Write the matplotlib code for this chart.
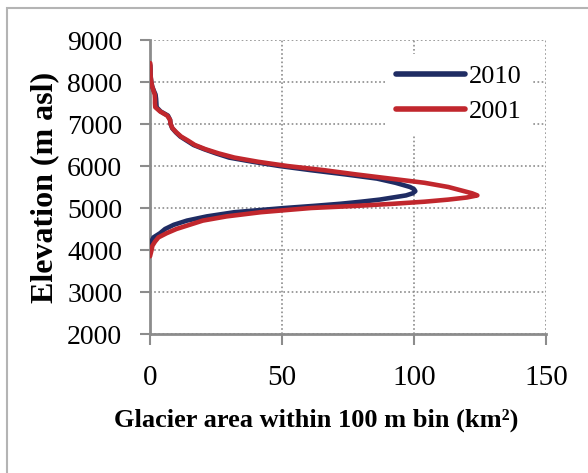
import matplotlib
matplotlib.use('Agg')
import matplotlib.pyplot as plt
from matplotlib.patches import Rectangle

# elevation (m asl) and glacier area within each 100 m bin (km2)
elev_2001 = [3850, 3900, 4000, 4100, 4200, 4300, 4400, 4500, 4600, 4700, 4800, 4900,
             5000, 5050, 5100, 5150, 5200, 5250, 5300, 5350, 5400, 5500, 5600, 5700,
             5800, 5900, 6000, 6100, 6200, 6300, 6400, 6500, 6600, 6700, 6800, 6900,
             7000, 7100, 7200, 7300, 7400, 7500, 7600, 7700, 7800, 7900, 8000, 8100,
             8200, 8300, 8450]
area_2001 = [0.0, 0.2, 0.6, 0.9, 1.9, 3.2, 6.3, 10.0, 15.0, 20.0, 29.0, 42.0,
             61.0, 78.0, 92.0, 104.0, 113.0, 120.0, 124.0, 122.0, 119.0, 113.0, 104.0, 91.0,
             78.0, 66.0, 52.0, 41.0, 32.0, 26.0, 21.0, 17.0, 14.5, 11.8, 10.0, 8.5,
             7.8, 7.6, 6.5, 3.8, 2.0, 1.9, 1.9, 1.8, 1.3, 0.8, 0.5, 0.3,
             0.2, 0.2, 0.1]

elev_2010 = [4000, 4100, 4200, 4300, 4400, 4500, 4600, 4700, 4800, 4900, 5000, 5050,
             5100, 5150, 5200, 5250, 5300, 5350, 5400, 5450, 5500, 5600, 5700, 5800,
             5900, 6000, 6100, 6200, 6300, 6400, 6500, 6600, 6700, 6800, 6900, 7000,
             7100, 7200, 7300, 7400, 7500, 7600, 7700, 7800, 7900, 8000, 8100, 8200,
             8300, 8400]
area_2010 = [0.0, 0.2, 0.5, 1.3, 3.8, 5.7, 9.0, 14.0, 21.5, 32.0, 51.0, 62.0,
             72.0, 80.0, 87.0, 92.0, 97.0, 99.5, 100.5, 100.0, 98.5, 93.0, 86.0, 74.0,
             61.0, 49.0, 39.0, 30.0, 25.0, 20.5, 16.5, 14.0, 11.5, 9.8, 8.4, 7.8,
             7.6, 6.8, 4.0, 2.5, 2.4, 2.3, 2.1, 1.4, 0.8, 0.5, 0.3, 0.2,
             0.2, 0.1]

grey = '#8c8c8c'
plt.rcParams['font.family'] = ['Liberation Serif', 'DejaVu Serif']

fig = plt.figure(figsize=(5.88, 4.73), dpi=100)
fig.patches.append(Rectangle((7 / 588, -0.1), 1.2, 1 - 8 / 473 + 0.1,
                             transform=fig.transFigure, fill=False,
                             edgecolor='#b4b4b4', linewidth=1.5, zorder=0))
ax = fig.add_axes([150 / 588, 1 - 334 / 473, 396 / 588, 294 / 473])

ax.plot(area_2010, elev_2010, color='#1f2c63', linewidth=3.3, label='2010',
        solid_capstyle='round', solid_joinstyle='round', zorder=3)
ax.plot(area_2001, elev_2001, color='#c1272d', linewidth=3.3, label='2001',
        solid_capstyle='round', solid_joinstyle='round', zorder=4)

ax.set_xlim(0, 150)
ax.set_ylim(2000, 9000)
ax.set_xticks([0, 50, 100, 150])
ax.set_yticks(range(2000, 9001, 1000))
ax.grid(True, color=grey, linestyle=(0, (1, 1.5)), linewidth=1.2)
ax.set_axisbelow(True)

for side in ['top', 'right']:
    ax.spines[side].set_visible(False)
for side in ['left', 'bottom']:
    ax.spines[side].set_color(grey)
    ax.spines[side].set_linewidth(2)

ax.tick_params(axis='y', length=7, width=1.5, color=grey, pad=13, labelsize=20)
ax.tick_params(axis='x', length=8, width=1.5, color=grey, pad=14, labelsize=21)

ax.set_ylabel('Elevation (m asl)', fontsize=23, fontweight='bold', labelpad=6)
fig.text(316 / 588, 1 - 420 / 473, 'Glacier area within 100 m bin (km²)',
         fontsize=19, fontweight='bold', ha='center', va='center')

leg = ax.legend(loc='upper right', bbox_to_anchor=(0.965, 0.952), frameon=True,
                fontsize=19, handlelength=2.6, handletextpad=0.15,
                labelspacing=0.45, borderaxespad=0.0)
leg.get_frame().set_edgecolor('none')
leg.get_frame().set_facecolor('white')
leg.get_frame().set_alpha(1)
for line in leg.get_lines():
    line.set_linewidth(4)

fig.savefig('out.png', dpi=100)
